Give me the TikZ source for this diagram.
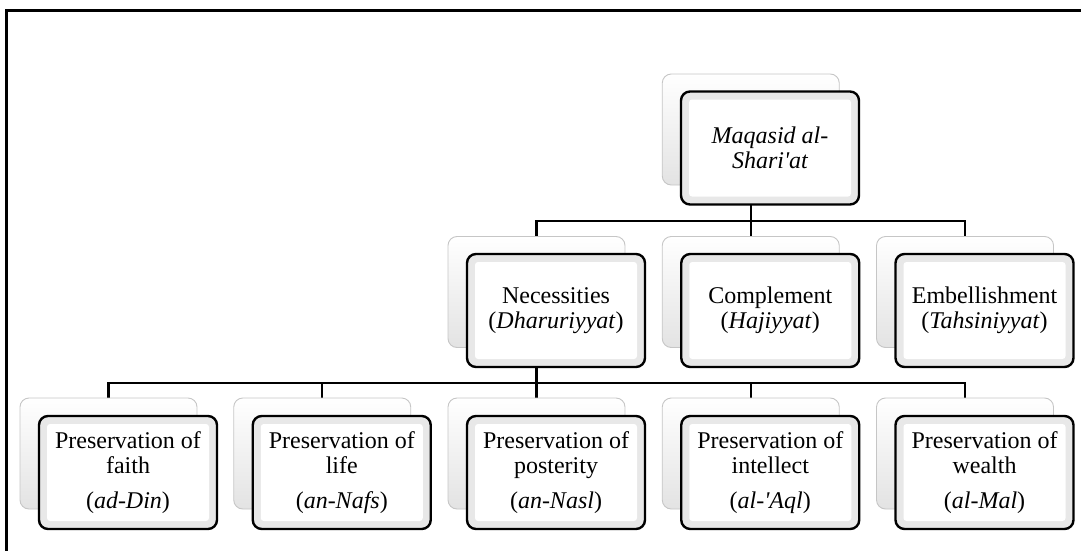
\documentclass[tikz,border=0pt]{standalone}
\usepackage{fontspec}
\setmainfont{Liberation Serif}[Ligatures=TeXOff]
\usetikzlibrary{backgrounds,calc}
\begin{document}
\begin{tikzpicture}[x=1pt,y=-1pt,
  backbox/.style={rectangle,rounded corners=9pt,minimum width=177pt,minimum height=111pt,
    draw=gray!45,line width=0.9pt,top color=white,bottom color=gray!22},
  frontbox/.style={rectangle,rounded corners=9pt,minimum width=178pt,minimum height=113pt,
    draw=black,line width=2.4pt,fill=gray!18,align=center,inner sep=2pt,
    font=\fontsize{24}{25}\selectfont,
    path picture={\fill[white,rounded corners=3pt]
      ([xshift=8pt,yshift=8pt]path picture bounding box.south west) rectangle
      ([xshift=-8pt,yshift=-8pt]path picture bounding box.north east);}},
  conn/.style={draw=black,line width=2.4pt},
  frameline/.style={draw=black,line width=3pt}]
\useasboundingbox (0,0) rectangle (1081,551);
% top node
\node[backbox] (topb) at (750.75,129.5) {};
\node[frontbox] (topf) at (770,148) {\itshape Maqasid al-\\\itshape Shari'at};
% level 2
\node[backbox] (nb) at (536.5,292) {};
\node[frontbox] (nf) at (556,310.5) {Necessities\\(\textit{Dharuriyyat})};
\node[backbox] (cb) at (750.75,292) {};
\node[frontbox] (cf) at (770.25,310.5) {Complement\\(\textit{Hajiyyat})};
\node[backbox] (eb) at (965,292) {};
\node[frontbox] (ef) at (984.5,310.5) {Embellishment\\(\textit{Tahsiniyyat})};
% level 3
\node[backbox] (p1b) at (108.5,453.5) {};
\node[frontbox] (p1f) at (128,472.5) {Preservation of\\faith\\[10pt](\textit{ad-Din})};
\node[backbox] (p2b) at (322.25,453.5) {};
\node[frontbox] (p2f) at (341.75,472.5) {Preservation of\\life\\[10pt](\textit{an-Nafs})};
\node[backbox] (p3b) at (536.5,453.5) {};
\node[frontbox] (p3f) at (556,472.5) {Preservation of\\posterity\\[10pt](\textit{an-Nasl})};
\node[backbox] (p4b) at (750.75,453.5) {};
\node[frontbox] (p4f) at (770.25,472.5) {Preservation of\\intellect\\[10pt](\textit{al-'Aql})};
\node[backbox] (p5b) at (965,453.5) {};
\node[frontbox] (p5f) at (984.5,472.5) {Preservation of\\wealth\\[10pt](\textit{al-Mal})};
\begin{pgfonlayer}{background}
  \coordinate (bus1) at (750.75,221);
  \coordinate (bus2) at (536.5,383);
  \draw[conn] (topb.south) -- (bus1);
  \draw[conn] (bus1) -| (nb.north);
  \draw[conn] (bus1) -| (cb.north);
  \draw[conn] (bus1) -| (eb.north);
  \draw[conn] (nb.south) -- (bus2);
  \foreach \n in {p1b,p2b,p3b,p4b,p5b} {\draw[conn] (bus2) -| (\n.north);}
  \coordinate (fTL) at (6.5,10.3);
  \coordinate (fTR) at (1081,10.3);
  \coordinate (fBL) at (6.5,551);
  \draw[frameline] (fTR) -- (fTL) -- (fBL);
\end{pgfonlayer}
\end{tikzpicture}
\end{document}
